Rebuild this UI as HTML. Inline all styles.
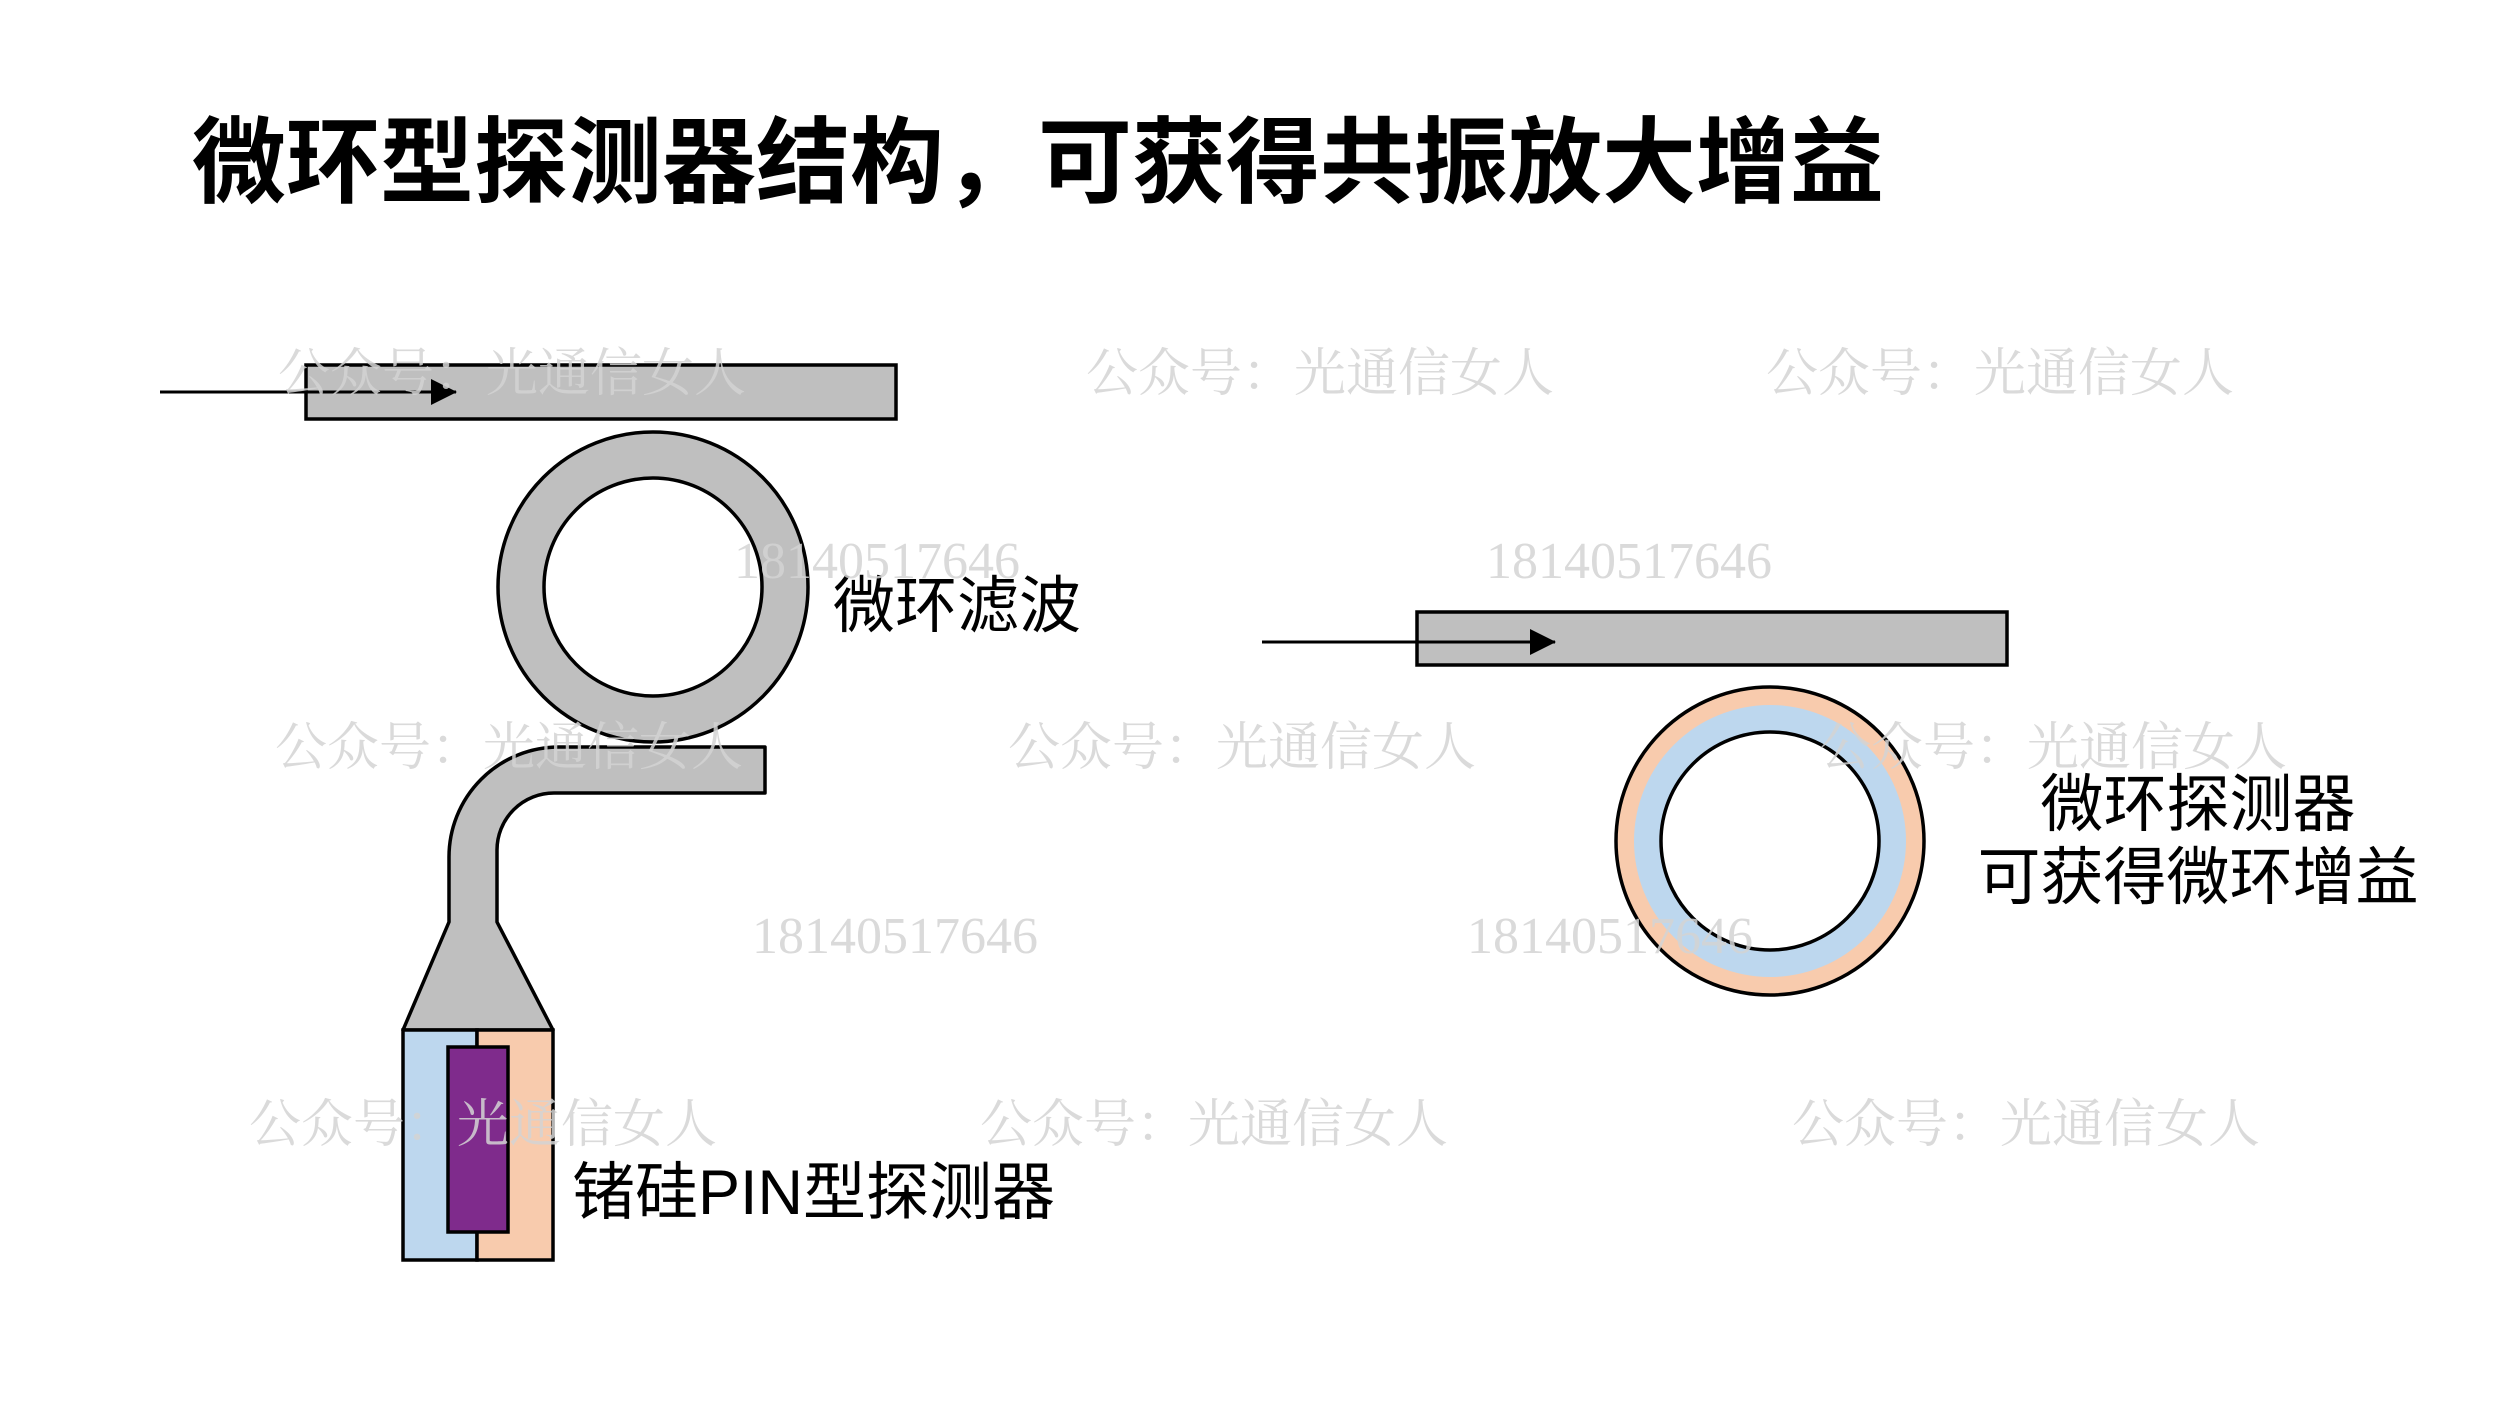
<!DOCTYPE html>
<html><head><meta charset="utf-8"><style>
html,body{margin:0;padding:0;background:#fff;}
svg{display:block;}
.cn{font-family:"Liberation Sans","Noto Sans CJK SC",sans-serif;}
.wm{font-family:"Liberation Serif","Noto Serif CJK SC",serif;fill:#d4d4d4;font-size:52px;opacity:0.85;}
</style></head><body>
<svg width="2500" height="1406" viewBox="0 0 2500 1406" xmlns="http://www.w3.org/2000/svg">
<defs>
<marker id="ah2" markerWidth="26" markerHeight="26" refX="25" refY="13" orient="auto" markerUnits="userSpaceOnUse">
<path d="M0,0 L26,13 L0,26 z" fill="#000"/>
</marker>
</defs>
<text x="192" y="195" class="cn" font-size="94" font-weight="bold" fill="#000">微环型探测器结构，可获得共振放大增益</text>

<rect x="306" y="365" width="590" height="54" fill="#bfbfbf" stroke="#000" stroke-width="3.5"/>
<line x1="160" y1="392" x2="456" y2="392" stroke="#000" stroke-width="3" marker-end="url(#ah2)"/>

<circle cx="653" cy="587" r="155" fill="#bfbfbf" stroke="#000" stroke-width="3.5"/>
<circle cx="653" cy="587" r="109" fill="#fff" stroke="#000" stroke-width="3.5"/>

<path d="M765,747 L559,747 A110,110 0 0 0 449,857 L449,922 L403,1030 L553,1030 L497,922 L497,850 A57,57 0 0 1 554,793 L765,793 Z" fill="#bfbfbf" stroke="#000" stroke-width="3.5" stroke-linejoin="round"/>

<rect x="403" y="1030" width="74" height="230" fill="#bdd7ee" stroke="#000" stroke-width="3.5"/>
<rect x="477" y="1030" width="76" height="230" fill="#f8cbad" stroke="#000" stroke-width="3.5"/>
<rect x="448" y="1047" width="60" height="185" fill="#7f2b8c" stroke="#000" stroke-width="3.5"/>

<text x="833" y="627" class="cn" font-size="62" fill="#000">微环滤波</text>
<text x="572" y="1214" class="cn" font-size="63" fill="#000">锗硅PIN型探测器</text>

<rect x="1417" y="612" width="590" height="53" fill="#bfbfbf" stroke="#000" stroke-width="3.5"/>
<line x1="1262" y1="642" x2="1555" y2="642" stroke="#000" stroke-width="3" marker-end="url(#ah2)"/>
<circle cx="1770" cy="841" r="154" fill="#f8cbad" stroke="#000" stroke-width="3.5"/>
<circle cx="1770" cy="841" r="136" fill="#bdd7ee"/>
<circle cx="1770" cy="841" r="109" fill="#fff" stroke="#000" stroke-width="3.5"/>
<text x="2198" y="826" class="cn" font-size="63" fill="#000" text-anchor="middle">微环探测器</text>
<text x="2198" y="899" class="cn" font-size="63" fill="#000" text-anchor="middle">可获得微环增益</text>

<text class="wm" x="278" y="391">公众号：光通信女人</text>
<text class="wm" x="1086" y="391">公众号：光通信女人</text>
<text class="wm" x="1766" y="391">公众号：光通信女人</text>
<text class="wm" x="275" y="765">公众号：光通信女人</text>
<text class="wm" x="1008" y="765">公众号：光通信女人</text>
<text class="wm" x="1819" y="765">公众号：光通信女人</text>
<text class="wm" x="249" y="1142">公众号：光通信女人</text>
<text class="wm" x="980" y="1142">公众号：光通信女人</text>
<text class="wm" x="1792" y="1142">公众号：光通信女人</text>
<text class="wm" x="734" y="578">18140517646</text>
<text class="wm" x="1486" y="578">18140517646</text>
<text class="wm" x="752" y="953">18140517646</text>
<text class="wm" x="1467" y="953">18140517646</text>
</svg>
</body></html>
